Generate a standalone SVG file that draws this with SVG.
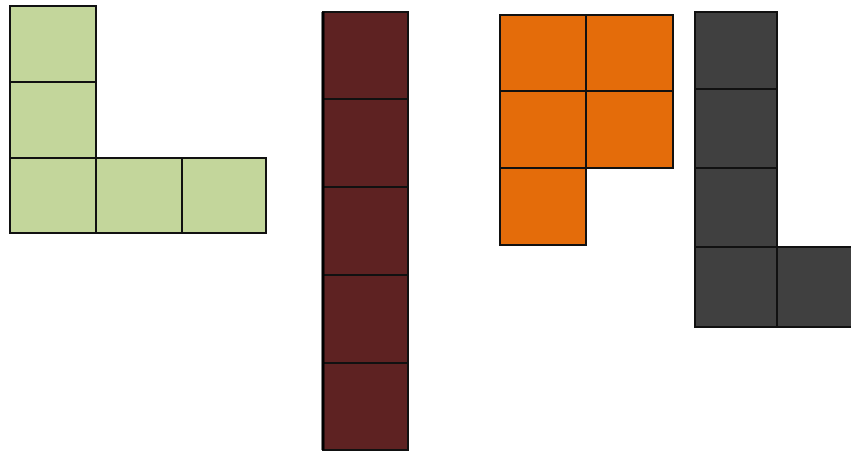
<svg xmlns="http://www.w3.org/2000/svg" width="851" height="452" viewBox="0 0 851 452">
<style>
.c{stroke:#111;stroke-width:2}
.g{fill:#c3d69b}
.b{fill:#5e2222}
.o{fill:#e46c0a}
.d{fill:#404040}
</style>
<rect width="851" height="452" fill="#fff"/>
<g id="green-L">
<rect class="c g" x="10" y="6" width="86" height="76"/>
<rect class="c g" x="10" y="82" width="86" height="76"/>
<rect class="c g" x="10" y="158" width="86" height="75"/>
<rect class="c g" x="96" y="158" width="86" height="75"/>
<rect class="c g" x="182" y="158" width="84" height="75"/>
</g>
<g id="brown-I">
<rect class="c b" x="323" y="12" width="85" height="87"/>
<rect class="c b" x="323" y="99" width="85" height="88"/>
<rect class="c b" x="323" y="187" width="85" height="88"/>
<rect class="c b" x="323" y="275" width="85" height="88"/>
<rect class="c b" x="323" y="363" width="85" height="87"/>
<line x1="323" y1="12" x2="323" y2="450" stroke="#000" stroke-width="3"/>
</g>
<g id="orange-P">
<rect class="c o" x="500" y="15" width="86" height="76"/>
<rect class="c o" x="586" y="15" width="87" height="76"/>
<rect class="c o" x="500" y="91" width="86" height="77"/>
<rect class="c o" x="586" y="91" width="87" height="77"/>
<rect class="c o" x="500" y="168" width="86" height="77"/>
</g>
<g id="gray-L">
<rect class="c d" x="695" y="12" width="82" height="77"/>
<rect class="c d" x="695" y="89" width="82" height="79"/>
<rect class="c d" x="695" y="168" width="82" height="79"/>
<rect class="c d" x="695" y="247" width="82" height="80"/>
<rect class="c d" x="777" y="247" width="76" height="80"/>
</g>
<g id="connectors"/>
</svg>
